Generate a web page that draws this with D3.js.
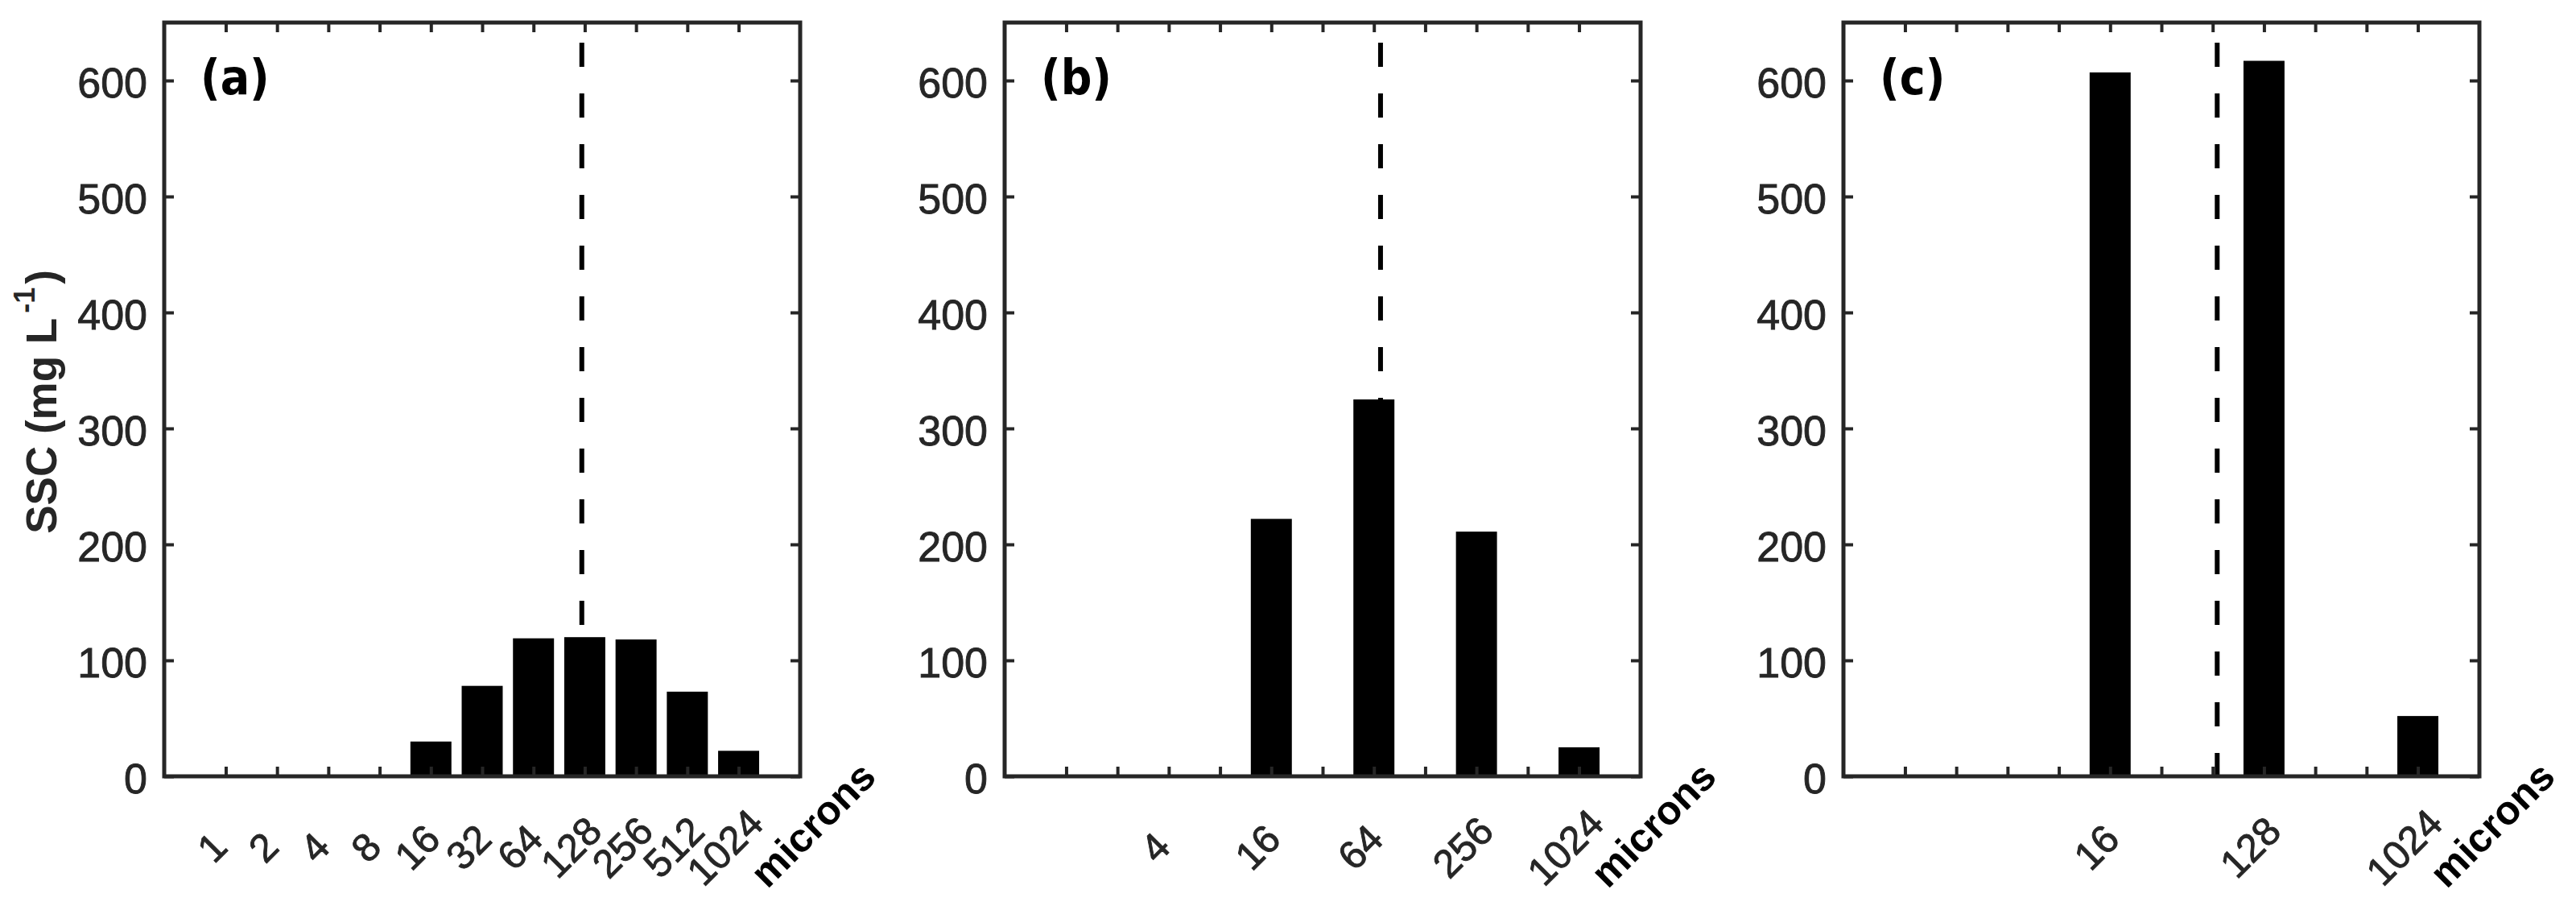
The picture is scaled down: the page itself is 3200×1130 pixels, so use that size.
<!DOCTYPE html>
<html>
<head>
<meta charset="utf-8">
<script src="https://cdn.jsdelivr.net/npm/d3@7"></script>
<style>
  html, body { margin: 0; padding: 0; background: #fff; }
  svg { display: block; }
</style>
</head>
<body>
<svg id="chart" width="3200" height="1130"></svg>
<script>
// ---------- data ----------
const sizeClasses = ["1", "2", "4", "8", "16", "32", "64", "128", "256", "512", "1024"]; // microns
const panelLetters = ["(a)", "(b)", "(c)"];
const ssc_a = [0, 0, 0, 0, 30, 78, 119, 120, 118, 73, 22];
const ssc_b = [0, 0, 0, 0, 222, 0, 325, 0, 211, 0, 25];
const ssc_c = [0, 0, 0, 0, 607, 0, 0, 617, 0, 0, 52];
const tickLabels_a = ["1", "2", "4", "8", "16", "32", "64", "128", "256", "512", "1024"];
const tickLabels_b = ["4", "16", "64", "256", "1024"];
const tickLabels_c = ["16", "128", "1024"];
const d50 = [123, 70, 68]; // microns, dashed line
const yTicks = [0, 100, 200, 300, 400, 500, 600];
const yMax = 650;
const yLabelMain = "SSC (mg L";
const yLabelSup = "-1";
const xUnit = "microns";

// ---------- layout ----------
const svg = d3.select("#chart");
const ink = "#262626";
const plotTop = 28, plotBottom = 964;
const panelLefts = [204, 1248, 2290];
const panelW = 790;
const fontMain = "'Liberation Sans', Arial, Helvetica, sans-serif";

const panels = [
  { vals: ssc_a, labels: tickLabels_a, letter: panelLetters[0], d50: d50[0] },
  { vals: ssc_b, labels: tickLabels_b, letter: panelLetters[1], d50: d50[1] },
  { vals: ssc_c, labels: tickLabels_c, letter: panelLetters[2], d50: d50[2] }
];

const y = d3.scaleLinear().domain([0, yMax]).range([plotBottom, plotTop]);
// position index: 1 micron -> 1, 2 -> 2, ... 1024 -> 11 (log2 spacing)
const pos = d => Math.log2(d) + 1;

panels.forEach((p, i) => {
  const left = panelLefts[i];
  const x = d3.scaleLinear().domain([-0.2, 12.2]).range([left, left + panelW]);
  const step = x(2) - x(1);
  const g = svg.append("g");

  // dashed D50 line (behind bars)
  g.append("line")
    .attr("x1", x(pos(p.d50))).attr("x2", x(pos(p.d50)))
    .attr("y1", y(yMax)).attr("y2", y(0))
    .attr("stroke", "#000").attr("stroke-width", 6)
    .attr("stroke-dasharray", "30,33").attr("stroke-dashoffset", 38);

  // bars
  const barData = sizeClasses.map((c, k) => ({ c, v: p.vals[k] })).filter(d => d.v > 0);
  g.selectAll("rect.bar").data(barData).enter().append("rect")
    .attr("class", "bar")
    .attr("x", d => x(pos(+d.c)) - 0.4 * step)
    .attr("width", 0.8 * step)
    .attr("y", d => y(d.v))
    .attr("height", d => y(0) - y(d.v))
    .attr("fill", "#000");

  // axes (inward ticks, box)
  const xb = d3.axisBottom(x).tickValues(sizeClasses.map(c => pos(+c))).tickSize(-12).tickFormat("");
  const xt = d3.axisTop(x).tickValues(sizeClasses.map(c => pos(+c))).tickSize(-12).tickFormat("");
  const yl = d3.axisLeft(y).tickValues(yTicks).tickSize(-12).tickFormat(d3.format("d")).tickPadding(21);
  const yr = d3.axisRight(y).tickValues(yTicks).tickSize(-12).tickFormat("");

  const styleAxis = sel => {
    sel.selectAll(".domain").remove();
    sel.selectAll(".tick line").attr("stroke", ink).attr("stroke-width", 4);
  };
  g.append("g").attr("transform", `translate(0,${plotBottom})`).call(xb).call(styleAxis);
  g.append("g").attr("transform", `translate(0,${plotTop})`).call(xt).call(styleAxis);
  const gyl = g.append("g").attr("transform", `translate(${left},0)`).call(yl).call(styleAxis);
  gyl.selectAll(".tick text")
    .attr("font-family", fontMain).attr("font-size", 52).attr("fill", ink)
    .attr("stroke", ink).attr("stroke-width", 0.9)
    .attr("dy", "0.40em");
  g.append("g").attr("transform", `translate(${left + panelW},0)`).call(yr).call(styleAxis);

  // box
  g.append("rect")
    .attr("x", left).attr("y", plotTop).attr("width", panelW).attr("height", plotBottom - plotTop)
    .attr("fill", "none").attr("stroke", ink).attr("stroke-width", 5);

  // rotated x tick labels
  g.selectAll("text.xl").data(p.labels).enter().append("text")
    .attr("class", "xl")
    .attr("transform", d => `translate(${x(pos(+d)) - 5},${plotBottom + 100}) rotate(-45)`)
    .attr("text-anchor", "middle")
    .attr("font-family", fontMain).attr("font-size", 49).attr("fill", ink)
    .attr("stroke", ink).attr("stroke-width", 0.9)
    .text(d => d);

  // unit label
  g.append("text")
    .attr("transform", `translate(${left + panelW + 28},${plotBottom + 72}) rotate(-45)`)
    .attr("text-anchor", "middle")
    .attr("font-family", fontMain).attr("font-size", 50).attr("font-weight", "bold").attr("fill", "#000")
    .text(xUnit);

  // panel letter
  g.append("text")
    .attr("x", left + 45).attr("y", y(588))
    .attr("font-family", "'DejaVu Sans Condensed', 'DejaVu Sans', Verdana, sans-serif")
    .attr("font-stretch", "condensed").attr("font-size", 60)
    .attr("font-weight", "bold").attr("fill", "#000")
    .text(p.letter);
});

// y-axis title
const yt = svg.append("text")
  .attr("transform", `translate(70,${(plotTop + plotBottom) / 2 + 3}) rotate(-90)`)
  .attr("text-anchor", "middle")
  .attr("font-family", fontMain).attr("font-size", 53).attr("font-weight", "bold").attr("fill", ink);
yt.append("tspan").text(yLabelMain);
yt.append("tspan").attr("font-size", 36).attr("dy", "-0.75em").attr("dx", "6").text(yLabelSup);
yt.append("tspan").attr("dy", "0.51em").attr("dx", "4").text(")");
</script>
</body>
</html>
